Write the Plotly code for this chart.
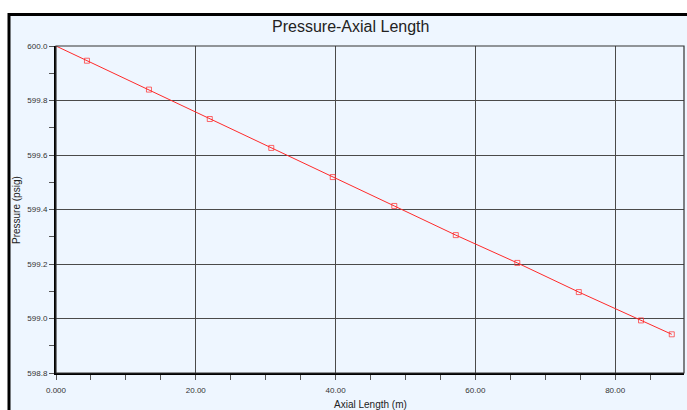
import plotly.graph_objects as go

# Pressure drop along the axial length of the line
axial_length_m = [0.0, 4.43, 13.3, 22.0, 30.8, 39.6, 48.4, 57.2, 66.0, 74.8, 83.7, 88.1]
pressure_psig = [600.0, 599.946, 599.840, 599.732, 599.626, 599.519, 599.413,
                 599.306, 599.204, 599.097, 598.993, 598.942]

x_tick_vals = [0, 20, 40, 60, 80]
x_tick_text = ["0.000", "20.00", "40.00", "60.00", "80.00"]
y_tick_vals = [598.8, 599.0, 599.2, 599.4, 599.6, 599.8, 600.0]
y_tick_text = ["598.8", "599.0", "599.2", "599.4", "599.6", "599.8", "600.0"]

W, H = 687, 410
ML, MR, MT, MB = 56, 3, 46, 37
PW, PH = W - ML - MR, H - MT - MB


def px_x(px):
    return (px - ML) / PW


def px_y(py):
    return 1 - (py - MT) / PH


RED = "#ff2a2a"
GRID = "#4a4a4a"
TICKFONT = dict(family="Liberation Sans, Arial, sans-serif", size=8, color="#333333")

fig = go.Figure()
fig.add_trace(go.Scatter(
    x=axial_length_m,
    y=pressure_psig,
    mode="lines+markers",
    line=dict(color=RED, width=1),
    marker=dict(symbol="square-open", color=RED, size=[0] + [5] * (len(axial_length_m) - 1),
                line=dict(width=1)),
    cliponaxis=False,
    showlegend=False,
))

fig.update_xaxes(
    range=[0, 89.85],
    tickvals=x_tick_vals, ticktext=x_tick_text,
    showgrid=True, gridcolor=GRID, gridwidth=1,
    showline=True, linecolor="#000000", linewidth=2,
    ticks="outside", ticklen=5, tickcolor="#555555", tickwidth=1,
    ticklabelstandoff=3,
    minor=dict(dtick=5, ticks="outside", ticklen=5, tickcolor="#555555", showgrid=False),
    tickfont=TICKFONT, zeroline=False,
)
fig.update_yaxes(
    range=[598.8, 600.0],
    tickvals=y_tick_vals, ticktext=y_tick_text,
    showgrid=True, gridcolor=GRID, gridwidth=1,
    showline=True, linecolor="#000000", linewidth=2,
    ticks="outside", ticklen=5, tickcolor="#555555", tickwidth=1,
    minor=dict(dtick=0.1, tick0=598.8, ticks="outside", ticklen=5, tickcolor="#555555", showgrid=False),
    tickfont=TICKFONT, zeroline=False,
)

fig.update_layout(
    width=W, height=H,
    margin=dict(l=ML, r=MR, t=MT, b=MB),
    paper_bgcolor="#ffffff",
    plot_bgcolor="rgba(0,0,0,0)",
    shapes=[
        # outer panel with light blue fill and heavy black frame
        dict(type="rect", xref="paper", yref="paper", layer="below",
             x0=px_x(9), x1=px_x(700), y0=px_y(430), y1=px_y(14.5),
             fillcolor="#eef6ff", line=dict(color="#000000", width=3)),
        # thin border around the plotting area
        dict(type="rect", xref="paper", yref="paper", layer="above",
             x0=0, x1=1, y0=0, y1=1,
             line=dict(color="#333333", width=1.2)),
    ],
    annotations=[
        dict(text="Pressure-Axial Length", xref="paper", yref="paper",
             x=px_x(350), y=px_y(27), xanchor="center", yanchor="middle",
             showarrow=False,
             font=dict(family="Liberation Sans, Arial, sans-serif", size=16, color="#222222")),
        dict(text="Axial Length (m)", xref="paper", yref="paper",
             x=px_x(370), y=px_y(404), xanchor="center", yanchor="middle",
             showarrow=False,
             font=dict(family="Liberation Sans, Arial, sans-serif", size=10, color="#222222")),
        dict(text="Pressure (psig)", xref="paper", yref="paper",
             x=px_x(17), y=px_y(210), xanchor="center", yanchor="middle",
             textangle=-90, showarrow=False,
             font=dict(family="Liberation Sans, Arial, sans-serif", size=10, color="#222222")),
    ],
)

fig.write_html("out.html")
